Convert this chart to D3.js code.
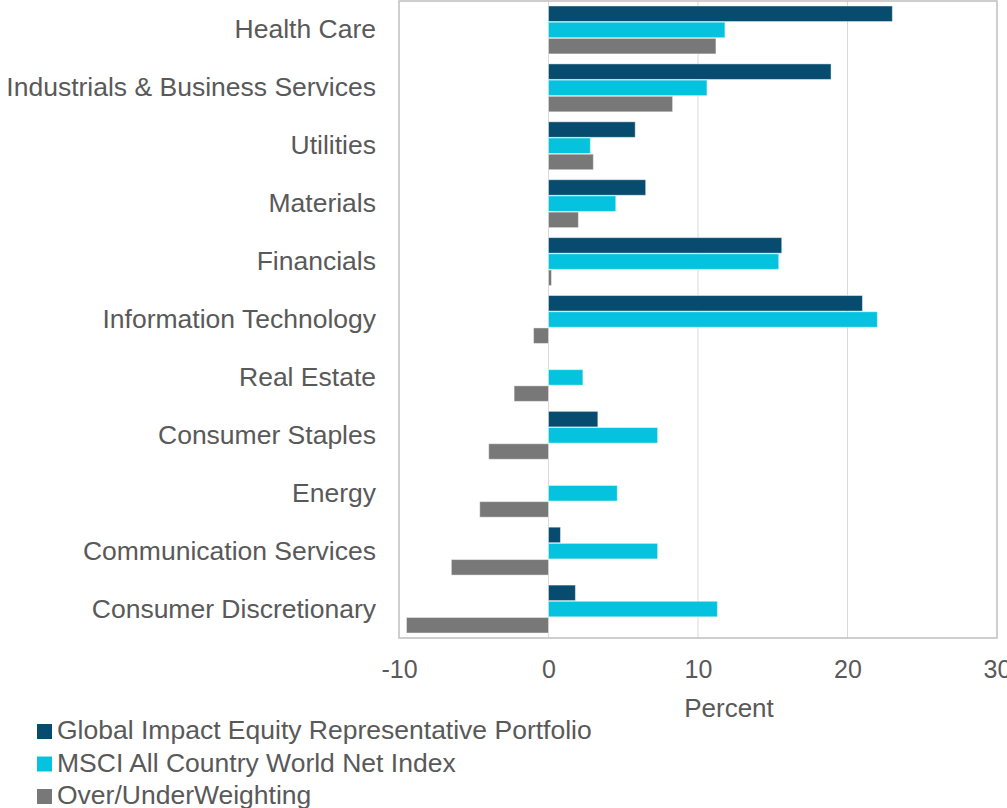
<!DOCTYPE html>
<html>
<head>
<meta charset="utf-8">
<script src="https://cdn.jsdelivr.net/npm/d3@7"></script>
<style>
  html, body { margin: 0; padding: 0; background: #fff; }
  svg { display: block; font-family: "Liberation Sans", Arial, sans-serif; }
</style>
</head>
<body>
<svg id="chart" width="1007" height="808"></svg>
<script>
// Sector weights (percent)
const categories = [
  "Health Care", "Industrials & Business Services", "Utilities", "Materials",
  "Financials", "Information Technology", "Real Estate", "Consumer Staples",
  "Energy", "Communication Services", "Consumer Discretionary"
];
const seriesNames = [
  "Global Impact Equity Representative Portfolio",
  "MSCI All Country World Net Index",
  "Over/UnderWeighting"
];
const portfolio = [23.0, 18.9, 5.8, 6.5, 15.6, 21.0, 0.0, 3.3, 0.0, 0.8, 1.8];
const msciIndex = [11.8, 10.6, 2.8, 4.5, 15.4, 22.0, 2.3, 7.3, 4.6, 7.3, 11.3];
const overUnder = [11.2, 8.3, 3.0, 2.0, 0.2, -1.0, -2.3, -4.0, -4.6, -6.5, -9.5];
const tickValues = [-10, 0, 10, 20, 30];
const colors = ["#074b6f", "#05c3de", "#787878"];

const series = [portfolio, msciIndex, overUnder];

const svg = d3.select("#chart");
const plot = { left: 399, right: 997, top: 1, bottom: 638 };
const textColor = "#595959";
const fontSize = "26px";

const x = d3.scaleLinear().domain([-10, 30]).range([plot.left, plot.right]);
const y = d3.scaleBand().domain(categories).range([plot.top, plot.bottom]).paddingInner(0.15).paddingOuter(0.075);
const ySub = d3.scaleBand().domain(d3.range(series.length)).range([0, y.bandwidth()]).padding(0.04);

// Vertical gridlines
svg.append("g")
  .selectAll("line")
  .data(tickValues.slice(1, -1))
  .join("line")
  .attr("x1", d => x(d)).attr("x2", d => x(d))
  .attr("y1", plot.top).attr("y2", plot.bottom)
  .attr("stroke", "#d9d9d9").attr("stroke-width", 1);

// Bars
const groups = svg.append("g")
  .selectAll("g")
  .data(categories)
  .join("g")
  .attr("transform", d => `translate(0,${y(d)})`);

groups.selectAll("rect")
  .data((d, i) => series.map((s, k) => ({ k, v: s[i] })))
  .join("rect")
  .attr("x", d => x(Math.min(0, d.v)))
  .attr("width", d => Math.abs(x(d.v) - x(0)))
  .attr("y", d => ySub(d.k))
  .attr("height", ySub.bandwidth())
  .attr("fill", d => colors[d.k])
  .attr("stroke", d => d.v === 0 ? "none" : "rgba(255,255,255,0.45)")
  .attr("stroke-width", 1);

// Plot border
svg.append("rect")
  .attr("x", plot.left).attr("y", plot.top)
  .attr("width", plot.right - plot.left).attr("height", plot.bottom - plot.top)
  .attr("fill", "none").attr("stroke", "#bfbfbf").attr("stroke-width", 1.5);

// X axis
const xAxis = svg.append("g")
  .attr("transform", `translate(0,${plot.bottom})`)
  .call(d3.axisBottom(x).tickValues(tickValues).tickFormat(d => String(d)).tickSize(0).tickPadding(22));
xAxis.select(".domain").remove();
xAxis.selectAll("text")
  .attr("fill", textColor)
  .style("font-size", "25px")
  .style("font-family", "'Liberation Sans', Arial, sans-serif");

svg.append("text")
  .attr("x", 729).attr("y", 717)
  .attr("text-anchor", "middle")
  .attr("fill", textColor)
  .style("font-size", fontSize)
  .text("Percent");

// Y axis (category labels)
const yAxis = svg.append("g")
  .attr("transform", `translate(${plot.left},0)`)
  .call(d3.axisLeft(y).tickSize(0).tickPadding(23));
yAxis.select(".domain").remove();
yAxis.selectAll("text")
  .attr("fill", textColor)
  .style("font-size", "26.5px")
  .style("font-family", "'Liberation Sans', Arial, sans-serif");

// Legend
const legend = svg.append("g")
  .selectAll("g")
  .data(seriesNames)
  .join("g")
  .attr("transform", (d, i) => `translate(37,${739 + i * 32.5})`);
legend.append("rect")
  .attr("x", 0).attr("y", -15)
  .attr("width", 15).attr("height", 15)
  .attr("fill", (d, i) => colors[i]);
legend.append("text")
  .attr("x", 20).attr("y", 0)
  .attr("fill", textColor)
  .style("font-size", "26.5px")
  .text(d => d);
</script>
</body>
</html>
